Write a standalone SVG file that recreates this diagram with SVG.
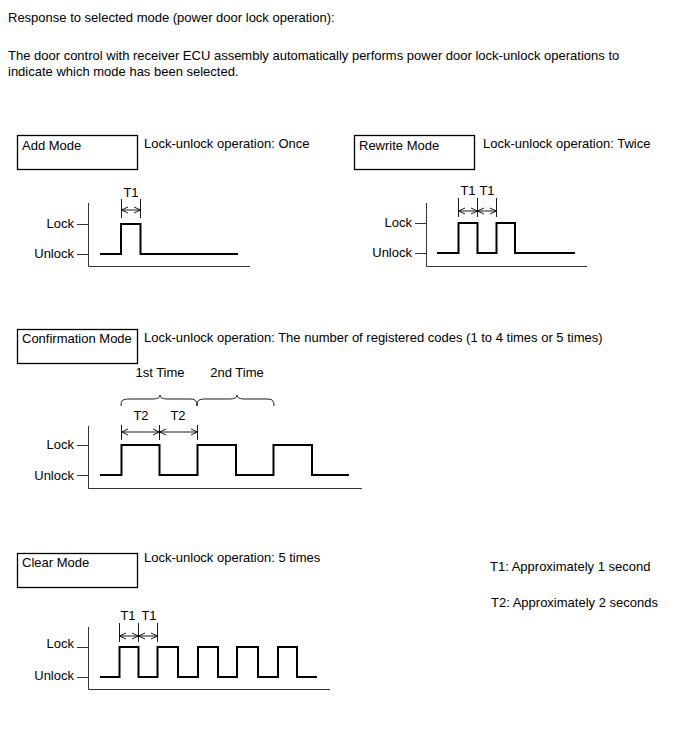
<svg xmlns="http://www.w3.org/2000/svg" width="688" height="755" viewBox="0 0 688 755">
<defs>
<marker id="ah" viewBox="0 0 8 8" refX="7.5" refY="4" markerWidth="8" markerHeight="8" markerUnits="userSpaceOnUse" orient="auto-start-reverse">
<path d="M1,1 L7.5,4 L1,7" fill="none" stroke="#000" stroke-width="0.9"/>
</marker>
</defs>
<style>
text{font-family:"Liberation Sans",Arial,sans-serif;font-size:13px;fill:#000}
.r{text-anchor:end}
.m{text-anchor:middle}
.box{fill:#fff;stroke:#000;stroke-width:1.3}
.ax{fill:none;stroke:#333;stroke-width:1}
.sig{fill:none;stroke:#000;stroke-width:2;stroke-linejoin:miter}
.dim{fill:none;stroke:#000;stroke-width:0.9}
.arr{fill:none;stroke:#000;stroke-width:0.9;marker-start:url(#ah);marker-end:url(#ah)}
</style>
<rect width="688" height="755" fill="#fff"/>
<g id="header">
<text x="8" y="22">Response to selected mode (power door lock operation):</text>
<text x="8" y="60">The door control with receiver ECU assembly automatically performs power door lock-unlock operations to</text>
<text x="8" y="76">indicate which mode has been selected.</text>
</g>
<g id="add-mode">
<rect class="box" x="17.5" y="135.5" width="120" height="34"/>
<text x="22" y="150">Add Mode</text>
<text x="144" y="148">Lock-unlock operation: Once</text>
<text class="m" x="131" y="197">T1</text>
<path class="dim" d="M121.5,199 V218 M140.5,199 V218"/>
<line class="arr" x1="121.5" y1="210" x2="140.5" y2="210"/>
<path class="ax" d="M88.5,203 V266.5 H250 M77,224.5 H88 M77,254.5 H88"/>
<text class="r" x="74" y="228">Lock</text>
<text class="r" x="74" y="258">Unlock</text>
<path class="sig" d="M100,254 H121 V224 H140.5 V254 H238"/>
</g>
<g id="rewrite-mode">
<rect class="box" x="354.5" y="135.5" width="120" height="34"/>
<text x="359" y="150">Rewrite Mode</text>
<text x="483" y="148">Lock-unlock operation: Twice</text>
<text class="m" x="468" y="195">T1</text>
<text class="m" x="487" y="195">T1</text>
<path class="dim" d="M458.5,198 V217 M477.5,198 V217 M496.5,198 V217"/>
<line class="arr" x1="458.5" y1="211" x2="477.5" y2="211"/>
<line class="arr" x1="477.5" y1="211" x2="496.5" y2="211"/>
<path class="ax" d="M426.5,203 V266.5 H587 M415,223.5 H426 M415,253.5 H426"/>
<text class="r" x="412" y="227">Lock</text>
<text class="r" x="412" y="257">Unlock</text>
<path class="sig" d="M437,253 H458.5 V223 H477.5 V253 H496.5 V223 H515 V253 H575"/>
</g>
<g id="confirmation-mode">
<rect class="box" x="17.5" y="329.5" width="120" height="34"/>
<text x="22" y="343">Confirmation Mode</text>
<text x="144" y="342">Lock-unlock operation: The number of registered codes (1 to 4 times or 5 times)</text>
<text class="m" x="160" y="377">1st Time</text>
<text class="m" x="237" y="377">2nd Time</text>
<path class="dim" d="M121,406 C121,400 123,399 130,399 L152,399 C157,399 160,398 160,395 C160,398 163,399 168,399 L189,399 C195,399 197,400 197,406"/>
<path class="dim" d="M197,406 C197,400 199,399 206,399 L229,399 C234,399 237,398 237,395 C237,398 240,399 245,399 L266,399 C272,399 274,400 274,406"/>
<text class="m" x="141" y="420">T2</text>
<text class="m" x="178" y="420">T2</text>
<path class="dim" d="M121.5,425 V440 M159.5,425 V440 M197.5,425 V440"/>
<line class="arr" x1="121.5" y1="432" x2="159.5" y2="432"/>
<line class="arr" x1="159.5" y1="432" x2="197.5" y2="432"/>
<path class="ax" d="M88.5,426 V488.5 H362 M77,445.5 H88 M77,475.5 H88"/>
<text class="r" x="74" y="449">Lock</text>
<text class="r" x="74" y="480">Unlock</text>
<path class="sig" d="M100,475 H121.5 V445 H159.5 V475 H197.5 V445 H236 V475 H273.5 V445 H312 V475 H349"/>
</g>
<g id="clear-mode">
<rect class="box" x="17.5" y="553.5" width="120" height="34"/>
<text x="22" y="567">Clear Mode</text>
<text x="144" y="562">Lock-unlock operation: 5 times</text>
<text class="m" x="128" y="620">T1</text>
<text class="m" x="149" y="620">T1</text>
<path class="dim" d="M119.5,623 V642 M138.5,623 V642 M157.5,623 V642"/>
<line class="arr" x1="119.5" y1="636" x2="138.5" y2="636"/>
<line class="arr" x1="138.5" y1="636" x2="157.5" y2="636"/>
<path class="ax" d="M88.5,627 V689.5 H330 M77,647.5 H88 M77,677.5 H88"/>
<text class="r" x="74" y="648">Lock</text>
<text class="r" x="74" y="680">Unlock</text>
<path class="sig" d="M100,677 H119.5 V647 H138.5 V677 H157.5 V647 H178 V677 H198 V647 H218 V677 H237 V647 H258 V677 H278 V647 H297 V677 H317"/>
</g>
<g id="legend">
<text x="490" y="571">T1: Approximately 1 second</text>
<text x="491" y="607">T2: Approximately 2 seconds</text>
</g>
</svg>
